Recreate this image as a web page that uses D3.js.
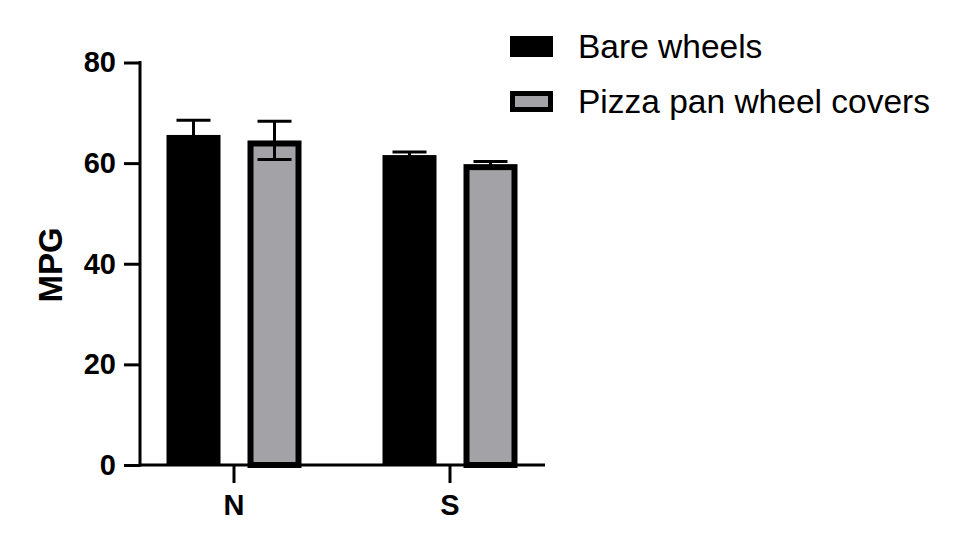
<!DOCTYPE html>
<html>
<head>
<meta charset="utf-8">
<script src="https://cdn.jsdelivr.net/npm/d3@7"></script>
<style>
html,body{margin:0;padding:0;background:#fff;}
svg{display:block;font-family:"Liberation Sans",Arial,Helvetica,sans-serif;}
</style>
</head>
<body>
<svg id="chart" width="960" height="548"></svg>
<script>
const categories = ["N", "S"];
const seriesNames = ["Bare wheels", "Pizza pan wheel covers"];
const bareMeans = [65.6, 61.6];
const bareErr = [2.9, 0.6];
const coverMeans = [64.5, 59.8];
const coverErr = [3.8, 0.5];
const yTicks = [0, 20, 40, 60, 80];
const seriesFill = ["#000000", "#a3a2a7"];

const svg = d3.select("#chart");
const y = d3.scaleLinear().domain([0, 80]).range([465, 62.5]);
const x0 = d3.scaleBand().domain(categories).range([126, 558]).padding(0);
const x1 = d3.scaleBand().domain(seriesNames).range([0, x0.bandwidth()]).paddingInner(1/3).paddingOuter(0.5);

const data = categories.map((c, i) => [
  {cat: c, s: seriesNames[0], m: bareMeans[i], e: bareErr[i], k: 0},
  {cat: c, s: seriesNames[1], m: coverMeans[i], e: coverErr[i], k: 1}
]).flat();

// bars
const bw = x1.bandwidth();
const sw = 6;
svg.append("g").selectAll("rect").data(data).join("rect")
  .attr("x", d => x0(d.cat) + x1(d.s) + (d.k ? sw/2 : 0))
  .attr("y", d => y(d.m) + (d.k ? sw/2 : 0))
  .attr("width", d => bw - (d.k ? sw : 0))
  .attr("height", d => y(0) - y(d.m) - (d.k ? sw/2 : 0))
  .attr("fill", d => seriesFill[d.k])
  .attr("stroke", d => d.k ? "#000" : "none")
  .attr("stroke-width", sw);

// error bars
const capW = 34;
const eg = svg.append("g").attr("stroke", "#000").attr("stroke-width", 3);
data.forEach(d => {
  const cx = x0(d.cat) + x1(d.s) + bw/2;
  eg.append("line").attr("x1", cx).attr("x2", cx).attr("y1", y(d.m - d.e)).attr("y2", y(d.m + d.e));
  eg.append("line").attr("x1", cx - capW/2).attr("x2", cx + capW/2).attr("y1", y(d.m + d.e)).attr("y2", y(d.m + d.e));
  eg.append("line").attr("x1", cx - capW/2).attr("x2", cx + capW/2).attr("y1", y(d.m - d.e)).attr("y2", y(d.m - d.e));
});

// y axis
const yAxis = svg.append("g").attr("transform", "translate(140,0)")
  .call(d3.axisLeft(y).tickValues(yTicks).tickSize(16).tickPadding(8).tickSizeOuter(0));
yAxis.selectAll("path,line").attr("stroke", "#000").attr("stroke-width", 3);
yAxis.select(".domain").attr("d", `M0,${y(0)+1.5}V${y(80)-1.5}`);
yAxis.selectAll("text").attr("font-size", 29).attr("font-weight", "bold").attr("fill", "#000")
  .attr("font-family", "Liberation Sans, Arial, sans-serif");

// x axis
const xAxis = svg.append("g").attr("transform", `translate(0,${y(0)})`)
  .call(d3.axisBottom(x0).tickSize(18).tickPadding(11).tickSizeOuter(0));
xAxis.select(".domain").attr("d", "M140,0H545").attr("stroke", "#000").attr("stroke-width", 3);
xAxis.selectAll(".tick line").attr("stroke", "#000").attr("stroke-width", 3);
xAxis.selectAll("text").attr("font-size", 29).attr("font-weight", "bold").attr("fill", "#000")
  .attr("font-family", "Liberation Sans, Arial, sans-serif");

// y label
svg.append("text").attr("transform", "translate(62,265) rotate(-90)")
  .attr("text-anchor", "middle").attr("font-size", 33).attr("font-weight", "bold").text("MPG");

// legend
const lg = svg.append("g");
seriesNames.forEach((s, i) => {
  const ly = 36 + i * 55;
  lg.append("rect").attr("x", 510 + (i ? 2.5 : 0)).attr("y", ly + (i ? 2.5 : 0))
    .attr("width", 43 - (i ? 5 : 0)).attr("height", 21 - (i ? 5 : 0))
    .attr("fill", seriesFill[i]).attr("stroke", i ? "#000" : "none").attr("stroke-width", 5);
  lg.append("text").attr("x", 578).attr("y", ly + 22).attr("font-size", 33.5).attr("fill", "#000").text(s);
});
</script>
</body>
</html>
